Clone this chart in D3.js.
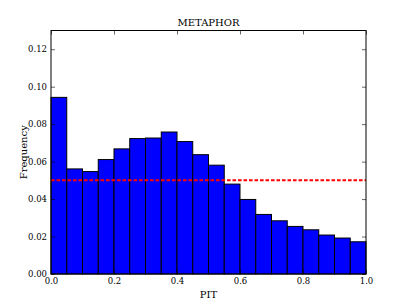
<!DOCTYPE html>
<html>
<head>
<meta charset="utf-8">
<script src="https://cdn.jsdelivr.net/npm/d3@7"></script>
<style>
  body { margin: 0; background: #fff; }
  svg text { font-family: "DejaVu Serif", "Liberation Serif", serif; }
</style>
</head>
<body>
<svg id="chart" width="407" height="305"></svg>
<script>
// histogram bins (left edges) and frequencies
const binStarts = [0.00, 0.05, 0.10, 0.15, 0.20, 0.25, 0.30, 0.35, 0.40, 0.45,
                   0.50, 0.55, 0.60, 0.65, 0.70, 0.75, 0.80, 0.85, 0.90, 0.95];
const frequencies = [0.0943, 0.0561, 0.0547, 0.0611, 0.0668, 0.0723, 0.0726, 0.0758, 0.0707, 0.0637,
                     0.0581, 0.0480, 0.0398, 0.0318, 0.0284, 0.0254, 0.0236, 0.0208, 0.0192, 0.0172];
const binWidth = 0.05;
const uniformLevel = 0.05;
const xTicks = [0.0, 0.2, 0.4, 0.6, 0.8, 1.0];
const yTicks = [0.00, 0.02, 0.04, 0.06, 0.08, 0.10, 0.12];

const renderHistogram = () => {
    const margin = { top: 30.5, right: 41, bottom: 31, left: 51 };
    const width = 407 - margin.left - margin.right;
    const height = 305 - margin.top - margin.bottom;

    const svg = d3.select("#chart");
    const g = svg.append("g")
        .attr("transform", `translate(${margin.left},${margin.top})`);

    const x = d3.scaleLinear().domain([0, 1]).range([0, width]);
    const y = d3.scaleLinear().domain([0, 0.13]).range([height, 0]);

    const data = binStarts.map((b, i) => ({ x0: b, x1: b + binWidth, freq: frequencies[i] }));

    // bars
    g.selectAll("rect.bar")
        .data(data)
        .enter()
        .append("rect")
        .attr("class", "bar")
        .attr("x", d => x(d.x0))
        .attr("y", d => y(d.freq))
        .attr("width", d => x(d.x1) - x(d.x0))
        .attr("height", d => y(0) - y(d.freq))
        .attr("fill", "#0000ff")
        .attr("stroke", "#000")
        .attr("stroke-width", 1);

    // uniform reference line
    g.append("line")
        .attr("x1", x(0))
        .attr("x2", x(1))
        .attr("y1", y(uniformLevel))
        .attr("y2", y(uniformLevel))
        .attr("stroke", "#ff0000")
        .attr("stroke-width", 2)
        .attr("stroke-dasharray", "3.6,1.9");

    // axes, ticks pointing inward on all four sides
    const tickLen = 4;
    g.append("g")
        .attr("transform", `translate(0,${height})`)
        .call(d3.axisBottom(x).tickValues(xTicks).tickSizeInner(-tickLen).tickSizeOuter(0).tickPadding(4)
            .tickFormat(d3.format(".1f")));
    g.append("g")
        .call(d3.axisTop(x).tickValues(xTicks).tickSizeInner(-tickLen).tickSizeOuter(0).tickFormat(""));
    g.append("g")
        .call(d3.axisLeft(y).tickValues(yTicks).tickSizeInner(-tickLen).tickSizeOuter(0).tickPadding(4)
            .tickFormat(d3.format(".2f")));
    g.append("g")
        .attr("transform", `translate(${width},0)`)
        .call(d3.axisRight(y).tickValues(yTicks).tickSizeInner(-tickLen).tickSizeOuter(0).tickFormat(""));

    g.selectAll(".domain").remove();
    g.selectAll(".tick line").attr("stroke", "#000").attr("stroke-width", 0.6);
    g.selectAll(".tick text").attr("font-size", 8.5).attr("fill", "#000")
        .style("font-family", "'DejaVu Serif', serif");

    // frame
    g.append("rect")
        .attr("x", 0).attr("y", 0)
        .attr("width", width).attr("height", height)
        .attr("fill", "none")
        .attr("stroke", "#000")
        .attr("stroke-width", 1);

    // title and labels
    svg.append("text")
        .attr("x", margin.left + width / 2)
        .attr("y", margin.top - 5)
        .attr("text-anchor", "middle")
        .attr("font-size", 10)
        .text("METAPHOR");

    svg.append("text")
        .attr("x", margin.left + width / 2)
        .attr("y", 298)
        .attr("text-anchor", "middle")
        .attr("font-size", 10)
        .text("PIT");

    svg.append("text")
        .attr("transform", `rotate(-90)`)
        .attr("x", -(margin.top + height / 2))
        .attr("y", 27)
        .attr("text-anchor", "middle")
        .attr("font-size", 10)
        .text("Frequency");
}

renderHistogram();
</script>
</body>
</html>
